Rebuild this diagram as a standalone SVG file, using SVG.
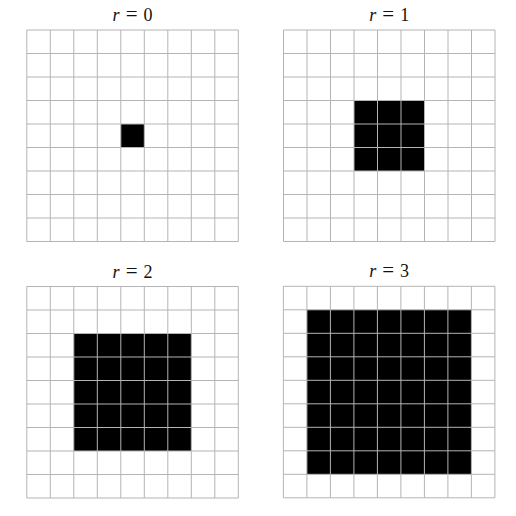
<svg xmlns="http://www.w3.org/2000/svg" xmlns:xlink="http://www.w3.org/1999/xlink" width="516" height="516" viewBox="0 0 516 516">
<style>
.grid{fill:none;stroke:#b4b4b4;stroke-width:1}
.on{fill:#000}
.t{font-family:"Liberation Serif","Times New Roman",serif;font-size:18px;fill:#111;text-anchor:middle}
.i{font-style:italic}
.eq{font-size:21px}
</style>
<defs>
<path id="g" class="grid" d="M0,0H211.5M0,23.5H211.5M0,47H211.5M0,70.5H211.5M0,94H211.5M0,117.5H211.5M0,141H211.5M0,164.5H211.5M0,188H211.5M0,211.5H211.5M0,0V211.5M23.5,0V211.5M47,0V211.5M70.5,0V211.5M94,0V211.5M117.5,0V211.5M141,0V211.5M164.5,0V211.5M188,0V211.5M211.5,0V211.5"/>
</defs>
<rect width="516" height="516" fill="#fff"/>
<g id="panel-r0" transform="translate(26.8,30)">
<rect class="on" x="94" y="94" width="23.5" height="23.5"/>
<use xlink:href="#g"/>
<text class="t" x="105.75" y="-9"><tspan class="i">r</tspan><tspan class="eq" dx="6">=</tspan><tspan dx="6">0</tspan></text>
</g>
<g id="panel-r1" transform="translate(283.5,30)">
<rect class="on" x="70.5" y="70.5" width="70.5" height="70.5"/>
<use xlink:href="#g"/>
<text class="t" x="105.75" y="-9"><tspan class="i">r</tspan><tspan class="eq" dx="6">=</tspan><tspan dx="6">1</tspan></text>
</g>
<g id="panel-r2" transform="translate(26.8,286.5)">
<rect class="on" x="47" y="47" width="117.5" height="117.5"/>
<use xlink:href="#g"/>
<text class="t" x="105.75" y="-9"><tspan class="i">r</tspan><tspan class="eq" dx="6">=</tspan><tspan dx="6">2</tspan></text>
</g>
<g id="panel-r3" transform="translate(283.4,286.3)">
<rect class="on" x="23.5" y="23.5" width="164.5" height="164.5"/>
<use xlink:href="#g"/>
<text class="t" x="105.75" y="-9"><tspan class="i">r</tspan><tspan class="eq" dx="6">=</tspan><tspan dx="6">3</tspan></text>
</g>
</svg>
